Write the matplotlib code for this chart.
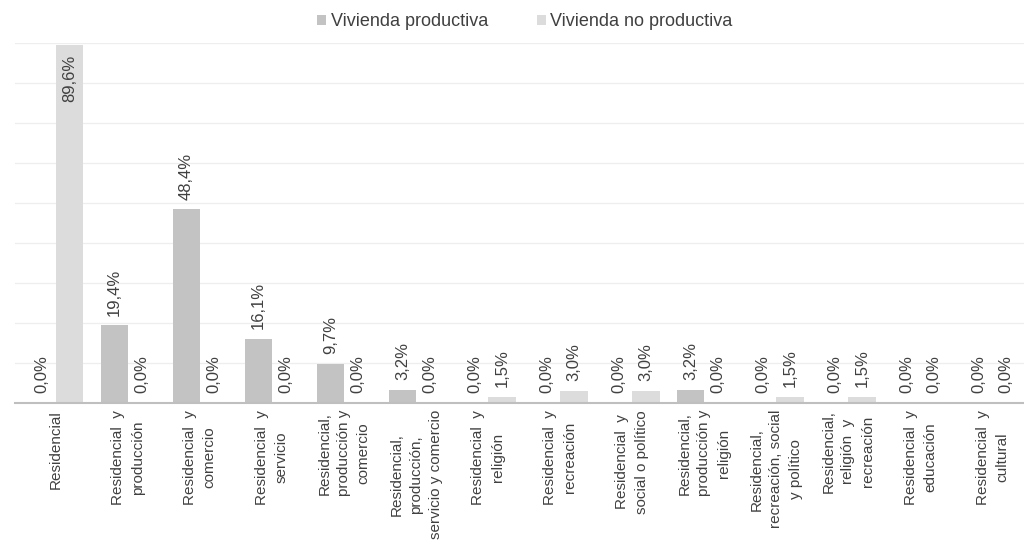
import numpy as np
import matplotlib.pyplot as plt

plt.rcParams['font.family'] = ['Liberation Sans', 'DejaVu Sans']

categorias = [
    "Residencial",
    "Residencial  y\nproducción",
    "Residencial  y\ncomercio",
    "Residencial  y\nservicio",
    "Residencial,\nproducción y\ncomercio",
    "Residencial,\nproducción,\nservicio y comercio",
    "Residencial  y\nreligión",
    "Residencial  y\nrecreación",
    "Residencial  y\nsocial o político",
    "Residencial,\nproducción y\nreligión",
    "Residencial,\nrecreación, social\ny político",
    "Residencial,\nreligión  y\nrecreación",
    "Residencial  y\neducación",
    "Residencial  y\ncultural",
]
productiva = [0.0, 19.4, 48.4, 16.1, 9.7, 3.2, 0.0, 0.0, 0.0, 3.2, 0.0, 0.0, 0.0, 0.0]
no_productiva = [89.6, 0.0, 0.0, 0.0, 0.0, 0.0, 1.5, 3.0, 3.0, 0.0, 1.5, 1.5, 0.0, 0.0]

text_color = '#404040'
fig = plt.figure(figsize=(10.24, 5.48), dpi=100)
ax = fig.add_axes([15 / 1024, 145 / 548, 1 - 15 / 1024, 360 / 548])

x = np.arange(len(categorias))
w = 0.38
b1 = ax.bar(x - w / 2, productiva, w, color='#c3c3c3', label='Vivienda productiva', zorder=2)
b2 = ax.bar(x + w / 2, no_productiva, w, color='#dcdcdc', label='Vivienda no productiva', zorder=2)

for bars, vals in ((b1, productiva), (b2, no_productiva)):
    for rect, v in zip(bars, vals):
        # la barra más alta lleva la etiqueta por dentro
        inside = v > 80
        ax.annotate(f"{v:.1f}%".replace('.', ','),
                    (rect.get_x() + rect.get_width() / 2, rect.get_height()),
                    xytext=(0, -7 if inside else 7), textcoords='offset points',
                    rotation=90, ha='center', va='top' if inside else 'bottom',
                    fontsize=12, color=text_color)

ax.set_xlim(-0.57, 13.44)
ax.set_ylim(0, 90)
ax.set_yticks(np.arange(0, 91, 10))
ax.yaxis.grid(True, color='#eeeeee', linewidth=0.9, zorder=0)
ax.tick_params(axis='y', left=False, labelleft=False)
ax.tick_params(axis='x', length=0, pad=5)
ax.set_xticks(x)
ax.set_xticklabels(categorias, rotation=90, ha='center', va='top',
                   multialignment='center', fontsize=11, color=text_color,
                   linespacing=1.5)
for s in ('top', 'right', 'left'):
    ax.spines[s].set_visible(False)
ax.spines['bottom'].set_color('#bfbfbf')
ax.spines['bottom'].set_linewidth(1.5)
ax.spines['bottom'].set_zorder(3)

fig.legend(loc='center', bbox_to_anchor=(525 / 1024, 1 - 22 / 548), ncol=2,
           frameon=False, fontsize=13, handlelength=0.5, handleheight=0.5,
           handletextpad=0.25, columnspacing=2.7, labelcolor=text_color)

fig.savefig('out.png', dpi=100)
